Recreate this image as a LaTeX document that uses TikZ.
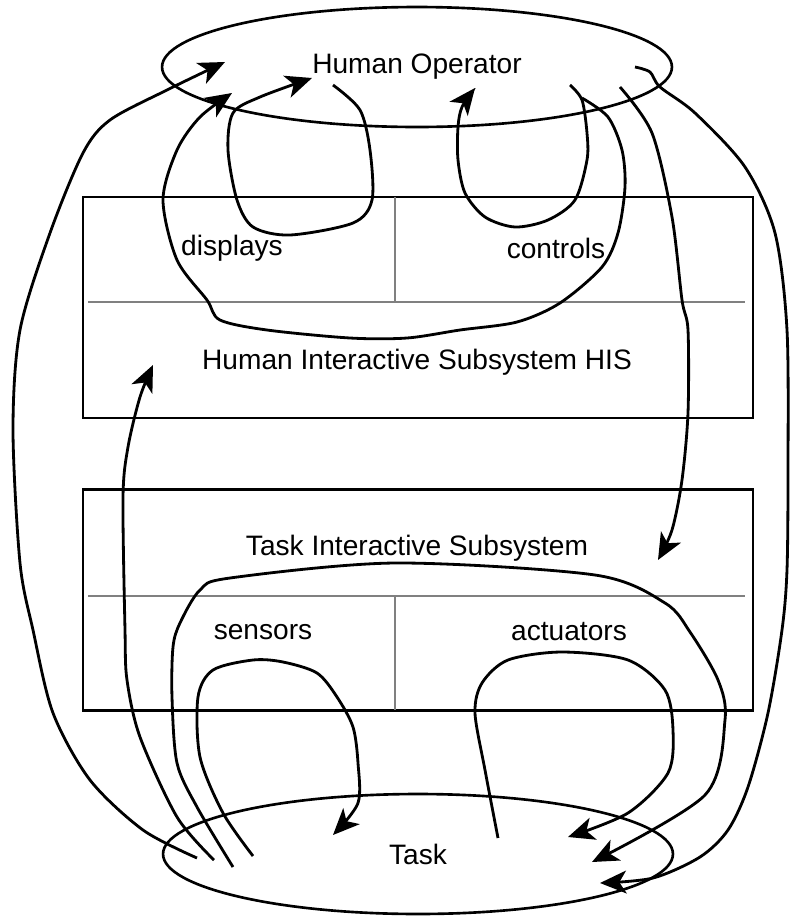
\documentclass[tikz,border=0pt]{standalone}
\usepackage{fontspec}
\setmainfont{Liberation Sans}
\usetikzlibrary{shapes.geometric,arrows.meta}
\begin{document}
\begin{tikzpicture}[x=0.02cm,y=-0.02cm,
     every node/.style={font=\fontsize{16}{19}\selectfont},
     blob/.style={ellipse,draw,line width=1.5pt,minimum width=10.2cm,minimum height=2.4cm,inner sep=0pt},
     subsys/.style={draw,line width=1.4pt,minimum width=13.4cm,minimum height=4.42cm,inner sep=0pt},
     split/.style={gray,line width=0.6pt},
     flow/.style={line width=1.6pt,-{Stealth[length=15pt,width=13pt,inset=4pt]}}]
   \useasboundingbox (0,0) rectangle (790,917);
   % the two ends and the two subsystems
   \node[blob] (op) at (417,67) {Human Operator};
   \node[blob] (task) at (418,854) {Task};
   \node[subsys] (his) at (418,307.5) {};
   \node[subsys] (tis) at (418,600) {};
   \draw[split] (88,302) -- (745,302)  (395,197) -- (395,302)
                (88,596) -- (745,596)  (395,596) -- (395,710);
   \node (his label) at (417,362) {Human Interactive Subsystem HIS};
   \node (disp) at (232,248) {displays};
   \node (ctrl) at (556,248) {controls};
   \node (tis label) at (417,548) {Task Interactive Subsystem};
   \node (sens) at (263,632) {sensors};
   \node (act) at (569,632) {actuators};
   % free ends of the loops
   \coordinate (a0) at (197,858); \coordinate (a1) at (225,62);
   \coordinate (b0) at (214,860); \coordinate (b1) at (153,365);
   \coordinate (c0) at (233,867); \coordinate (c1) at (592,862);
   \coordinate (d0) at (253,856); \coordinate (d1) at (333,835);
   \coordinate (e0) at (498,838); \coordinate (e1) at (568,837);
   \coordinate (f0) at (635,67);  \coordinate (f1) at (600,883);
   \coordinate (g0) at (620,87);  \coordinate (g1) at (658,560);
   \coordinate (h0) at (570,85);  \coordinate (h1) at (475,88);
   \coordinate (i0) at (582,98);  \coordinate (i1) at (232,93);
   \coordinate (j0) at (333,85);  \coordinate (j1) at (312,78);
   % task to operator
   \draw[flow] plot[smooth] coordinates {(a0) (143,830) (90,780) (53,713) (33,630)
       (20,563) (13,430) (20,330) (50,233) (83,153) (110,120) (167,90) (a1)};
   \draw[flow] plot[smooth] coordinates {(b0) (177,817) (140,737) (127,680) (125,630)
       (123,497) (128,447) (140,397) (b1)};
   \draw[flow] plot[smooth] coordinates {(c0) (197,807) (177,763) (172,697) (173,647)
       (180,623) (200,590) (230,578) (395,563) (595,575) (665,603) (690,632)
       (718,680) (725,720) (705,795) (c1)};
   \draw[flow] plot[smooth] coordinates {(d0) (223,813) (200,757) (198,697) (213,670)
       (253,660) (283,662) (317,673) (337,697) (353,727) (358,763) (358,803) (d1)};
   \draw[flow] plot[smooth] coordinates {(e0) (485,770) (475,713) (482,683) (508,660)
       (562,652) (628,660) (665,690) (673,730) (668,773) (628,813) (e1)};
   % operator to task
   \draw[flow] plot[smooth] coordinates {(f0) (650,72) (660,87) (695,113) (745,167)
       (775,233) (787,330) (788,470) (787,570) (782,630) (768,713) (748,787)
       (728,830) (700,857) (653,878) (f1)};
   \draw[flow] plot[smooth] coordinates {(g0) (652,133) (672,217) (682,300) (688,330)
       (688,413) (682,480) (672,530) (g1)};
   % loops through the HIS
   \draw[flow] plot[smooth] coordinates {(h0) (582,100) (587,133) (587,160) (575,200)
       (548,220) (515,227) (485,217) (465,193) (458,160) (458,127) (462,107) (h1)};
   \draw[flow] plot[smooth] coordinates {(i0) (608,117) (622,150) (625,187) (618,233)
       (602,267) (560,303) (517,322) (460,330) (407,338) (350,338) (267,330)
       (220,320) (207,300) (177,260) (163,200) (177,150) (200,117) (i1)};
   \draw[flow] plot[smooth] coordinates {(j0) (360,110) (370,150) (372,200) (353,223)
       (290,235) (253,227) (237,200) (228,150) (233,113) (260,97) (j1)};
\end{tikzpicture}
\end{document}
